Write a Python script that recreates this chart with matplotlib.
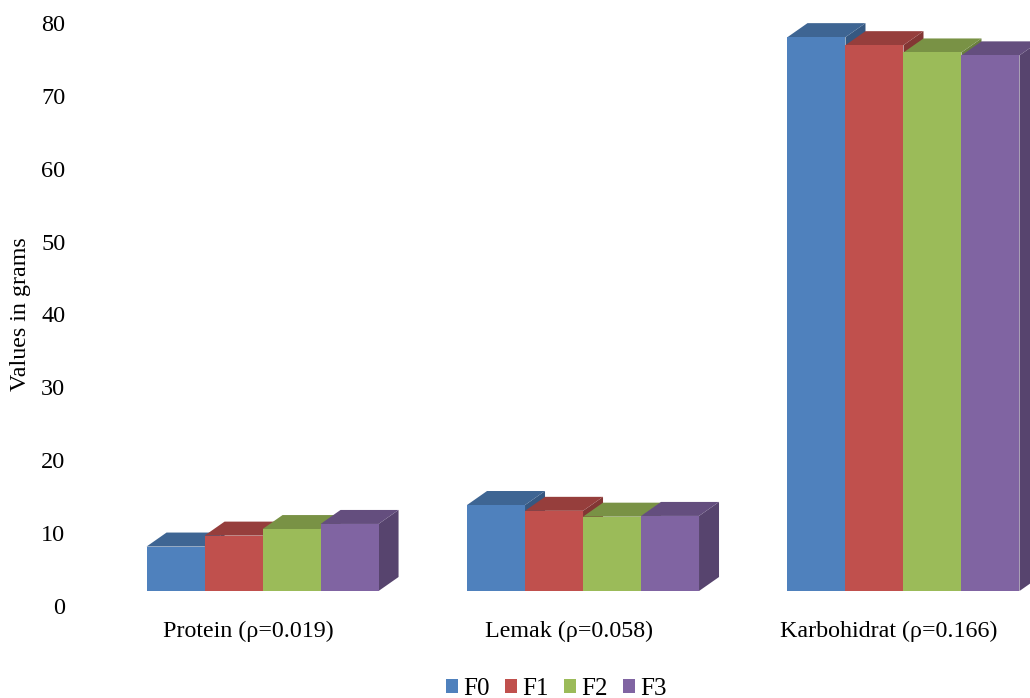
import numpy as np
from matplotlib import pyplot as plt
from matplotlib.patches import Polygon
from matplotlib.colors import to_rgb

categories = ["Protein (\u03c1=0.019)", "Lemak (\u03c1=0.058)", "Karbohidrat (\u03c1=0.166)"]
series_names = ["F0", "F1", "F2", "F3"]
f0 = [6.1, 11.8, 76.0]
f1 = [7.6, 11.0, 74.9]
f2 = [8.5, 10.2, 73.9]
f3 = [9.2, 10.3, 73.5]
y_ticks = [0, 10, 20, 30, 40, 50, 60, 70, 80]

series = [f0, f1, f2, f3]
colors = ["#4F81BD", "#C0504D", "#9BBB59", "#8064A2"]

plt.rcParams['font.family'] = ['Liberation Serif', 'DejaVu Serif']

W, H, DPI = 1030, 698, 100
fig = plt.figure(figsize=(W / DPI, H / DPI), dpi=DPI)
fig.patch.set_facecolor("white")

# axes placed in pixels: left 75, bottom at 606 from top, top at 23 from top
ax = fig.add_axes([75 / W, (H - 606) / H, (W - 75) / W, (606 - 23) / H])
ax.set_xlim(-0.54, 2.44)
ax.set_ylim(0, 80)

ppx = (W - 75) / (2.44 + 0.54)   # pixels per x unit
ppy = (606 - 23) / 80.0          # pixels per y unit

# pseudo-3d offsets (floor shift and bar depth), in pixels -> data units
sx, sy = 14.5 / ppx, 15 / ppy
dx, dy = 20 / ppx, 14 / ppy

bar_w = 58 / ppx
x = np.arange(len(categories))


def shade(c, f):
    r, g, b = to_rgb(c)
    return (r * f, g * f, b * f)


for k, (vals, col, name) in enumerate(zip(series, colors, series_names)):
    lefts = x + sx + (k - 2) * bar_w
    for x0, v in zip(lefts, vals):
        t = v + sy
        side = Polygon([(x0 + bar_w, sy), (x0 + bar_w + dx, sy + dy),
                        (x0 + bar_w + dx, t + dy), (x0 + bar_w, t)],
                       closed=True, facecolor=shade(col, 0.68), edgecolor="none",
                       zorder=2 + 3 * k, clip_on=False)
        top = Polygon([(x0, t), (x0 + bar_w, t), (x0 + bar_w + dx, t + dy), (x0 + dx, t + dy)],
                      closed=True, facecolor=shade(col, 0.78), edgecolor="none",
                      zorder=3 + 3 * k, clip_on=False)
        ax.add_patch(side)
        ax.add_patch(top)
    ax.bar(lefts, vals, width=bar_w, bottom=sy, align="edge", color=col,
           label=name, zorder=4 + 3 * k, clip_on=False, linewidth=0)

ax.set_xticks(x)
ax.set_xticklabels(categories, fontsize=17.3)
ax.set_yticks(y_ticks)
ax.set_yticklabels([str(t) for t in y_ticks], fontsize=17.5)
ax.tick_params(axis='both', length=0)
ax.tick_params(axis='x', pad=11)
ax.tick_params(axis='y', pad=7)
for s in ax.spines.values():
    s.set_visible(False)
ax.set_facecolor("none")

ax.set_ylabel("Values in grams", fontsize=17.3)
ax.yaxis.set_label_coords(-44 / (W - 75), 0.5)

fig.legend(loc="center", bbox_to_anchor=(556 / W, 9 / H), ncol=4, frameon=False,
           fontsize=18, handlelength=0.5, handleheight=0.5, handletextpad=0.2,
           columnspacing=0.6, borderpad=0)

plt.savefig("out.png", dpi=DPI, facecolor=fig.get_facecolor())
